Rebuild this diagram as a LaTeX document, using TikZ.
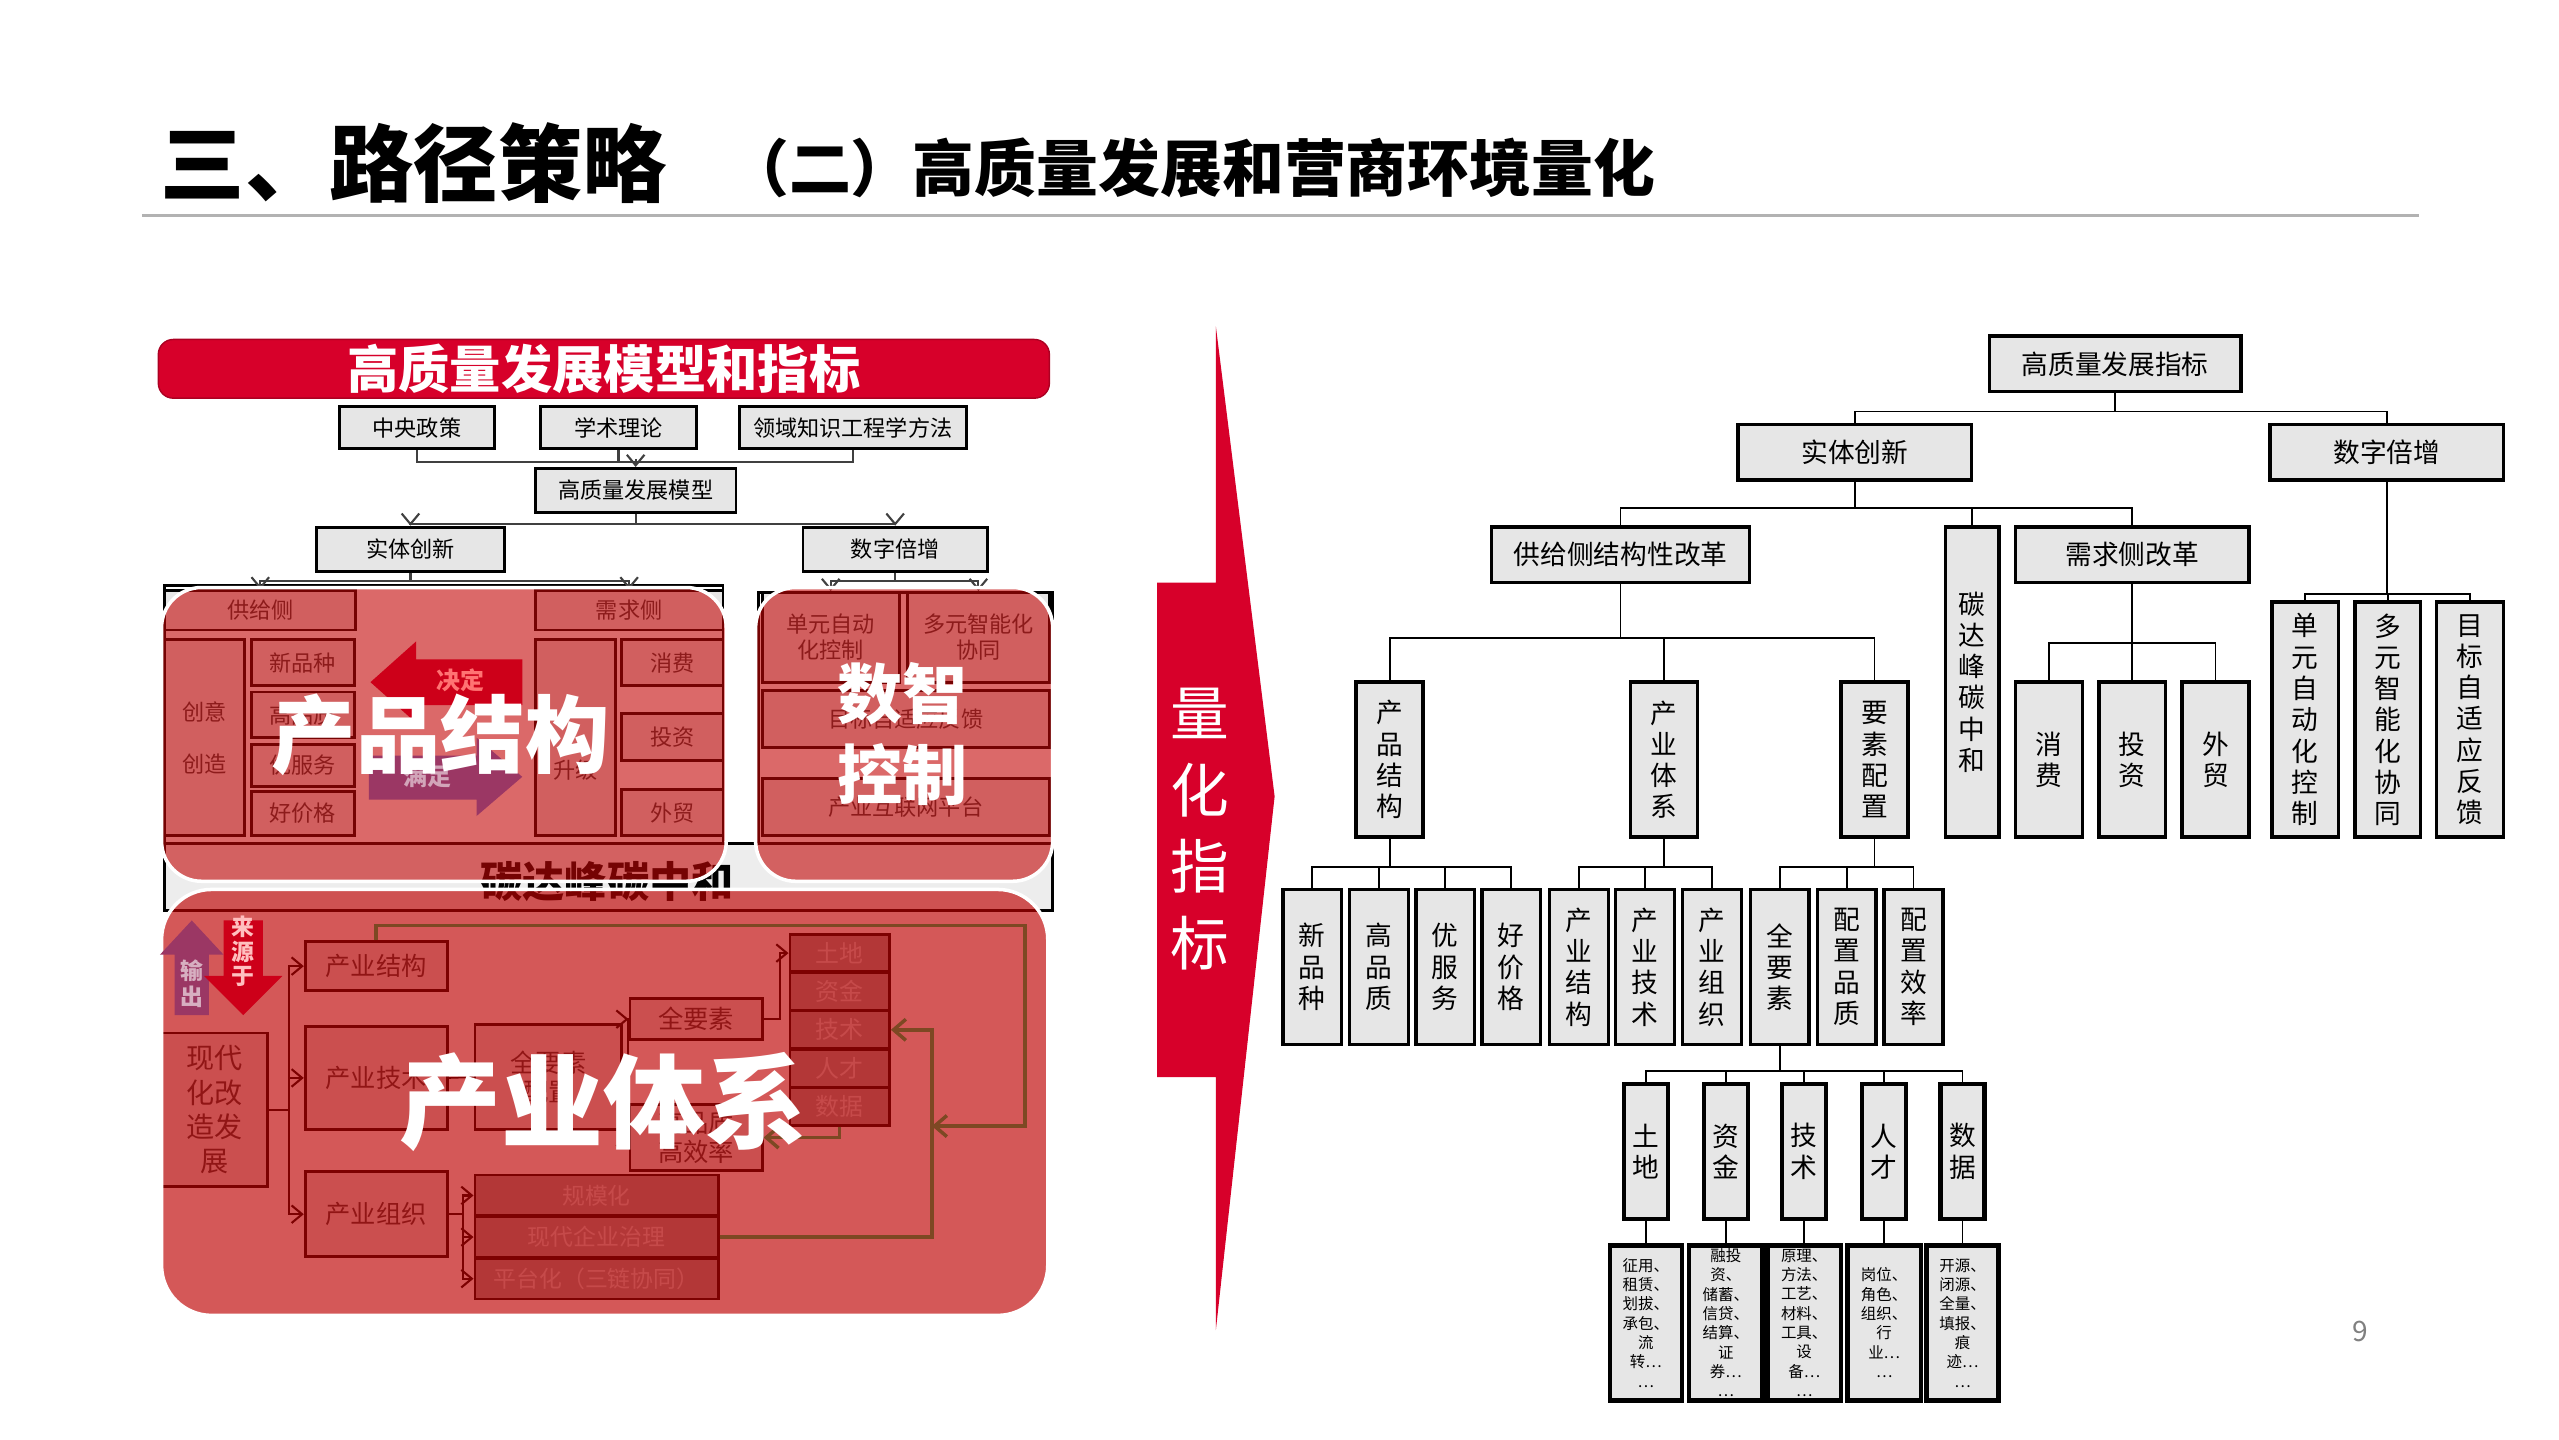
\documentclass[tikz,border=0pt]{standalone}
\usepackage{fontspec}
\setmainfont{Noto Sans CJK SC}
\usepackage{xcolor}
\usepackage{tikz}
\usetikzlibrary{arrows.meta,positioning,calc}

\newlength{\pu}
\setlength{\pu}{0.1632mm}
\newcommand{\fs}[2]{\fontsize{#1}{#2}\selectfont}

\definecolor{boxgray}{RGB}{230,230,230}
\definecolor{stripgray}{RGB}{237,237,237}
\definecolor{hqred}{RGB}{215,0,42}
\definecolor{ovred}{RGB}{195,5,5}
\definecolor{ovredb}{RGB}{190,2,2}
\definecolor{arrred}{RGB}{205,0,25}
\definecolor{arrpur}{RGB}{155,55,100}
\definecolor{brn}{RGB}{125,72,35}
\definecolor{txtgray}{RGB}{60,60,60}
\definecolor{stkfill}{RGB}{160,160,160}
\definecolor{stktxt}{RGB}{215,215,215}

\begin{document}
\begin{tikzpicture}[
    x=0.1632mm, y=-0.1632mm,
    wh/.style 2 args={minimum width=#1*\pu, minimum height=#2*\pu},
    tbox/.style={draw, line width=1pt, fill=boxgray, inner sep=0pt, align=center, font=\fs{7.6}{8.9}},
    ebox/.style={draw, line width=1.3pt, fill=boxgray, inner sep=0pt, align=center, font=\fs{4.4}{5.5}},
    lbox/.style={draw, line width=0.8pt, fill=boxgray, inner sep=0pt, align=center, font=\fs{6.3}{7.4}},
    ibox/.style={draw, line width=0.8pt, fill=boxgray, inner sep=0pt, align=center, text=txtgray, font=\fs{6.3}{7.4}},
    jbox/.style={draw, line width=0.8pt, fill=boxgray, inner sep=0pt, align=center, text=txtgray, font=\fs{7.2}{8.4}},
    stk/.style={draw, line width=0.8pt, fill=stkfill, inner sep=0pt, align=center, text=stktxt, font=\fs{6.8}{8}},
    link/.style={draw, line width=0.5pt},
    gline/.style={draw=darkgray, line width=0.6pt},
    garr/.style={draw=darkgray, line width=0.6pt, -{Straight Barb[length=3pt,width=5pt]}},
    iarr/.style={draw=black, line width=0.6pt, -{Straight Barb[length=3pt,width=5pt]}},
    barr/.style={draw=brn, line width=1pt, -{Straight Barb[length=3.5pt,width=6pt]}},
    overlay1/.style={fill=ovred, fill opacity=0.6, draw=white, line width=1pt, rounded corners=4mm},
    overlay2/.style={fill=ovredb, fill opacity=0.66, draw=white, line width=1pt, rounded corners=5mm},
    big/.style={text=white, align=center, inner sep=0pt}
]
\useasboundingbox (0,0) rectangle (1568,882);

% Heading
\node[anchor=west, font=\bfseries\fs{24}{28}] (tmain) at (91,100) {三、路径策略};
\node[anchor=west, font=\bfseries\fs{17.6}{20}] (tsub) at (438,103) {（二）高质量发展和营商环境量化};
\draw[gray!60, line width=0.8pt] (87,132) -- (1482,132);
\node[text=gray, font=\fs{8}{9}] (pgnum) at (1446,816) {9};

% Left panel: model header
\node[draw=hqred!80!black, fill=hqred, rounded corners=1.5mm, wh={546}{36}, inner sep=0pt, text=white, font=\bfseries\fs{14.6}{16}] (lt) at (370,226) {高质量发展模型和指标};
\node[lbox, wh={95}{26}] (zy) at (255.5,262) {中央政策};
\node[lbox, wh={96}{26}] (xs) at (379,262) {学术理论};
\node[lbox, wh={139}{26}] (ly) at (522.5,262) {领域知识工程学方法};
\node[lbox, wh={123}{27}] (gm) at (389.5,300.5) {高质量发展模型};
\node[lbox, wh={115}{27}] (lst) at (251.5,336.5) {实体创新};
\node[lbox, wh={113}{27}] (lsz) at (548.5,336.5) {数字倍增};

\draw[gline] (zy.south) -- ++(0,7) -| (ly.south);
\draw[gline] (xs.south) -- ++(0,7);
\draw[garr] (gm.north) ++(0,-5) -- (gm.north);
\draw[garr] (gm.south) -- ++(0,6) -| (lst.north);
\draw[garr] (gm.south) -- ++(0,6) -| (lsz.north);

% Frames under the overlays
\draw[line width=0.8pt, fill=stripgray] (101,517) rectangle (645,558);
\draw[line width=0.8pt, fill=white] (101,359) rectangle (443,517);
\draw[line width=0.8pt, fill=white] (465,363) rectangle (645,517);
\node[font=\bfseries\fs{12}{14}] (tdf) at (372,540) {碳达峰碳中和};

% Product structure block
\node[ibox, wh={117}{24}] (gjb) at (159.5,374) {供给侧};
\node[ibox, wh={115}{24}] (xqb) at (385.5,374) {需求侧};
\node[ibox, wh={49}{120}, font=\fs{6.3}{14.9}] (cy) at (125.5,452) {创意\\创造};
\node[ibox, wh={63}{28}] (p1) at (185.5,406) {新品种};
\node[ibox, wh={63}{28}] (p2) at (185.5,438) {高品质};
\node[ibox, wh={63}{26}] (p3) at (185.5,469) {优服务};
\node[ibox, wh={63}{27}] (p4) at (185.5,498.5) {好价格};
\node[ibox, wh={49}{120}] (sj) at (352.5,452) {};
\node[text=txtgray, font=\fs{6.3}{7.4}] (sjt) at (352.5,472) {升级};
\node[ibox, wh={62}{28}] (q1) at (412,406) {消费};
\node[ibox, wh={62}{29}] (q2) at (412,451.5) {投资};
\node[ibox, wh={62}{28}] (q3) at (412,498) {外贸};

% Digital control block
\node[ibox, wh={84}{55}] (d1) at (509,390.5) {单元自动\\化控制};
\node[ibox, wh={87}{55}] (d2) at (599.5,390.5) {多元智能化\\协同};
\node[ibox, wh={176}{35}] (d3) at (555,440.5) {目标自适应反馈};
\node[ibox, wh={176}{35}] (d4) at (555,494.5) {产业互联网平台};

\draw[garr] (lst.south) -- ++(0,5) -| (gjb.north);
\draw[garr] (lst.south) -- ++(0,5) -| (xqb.north);
\draw[garr] (lsz.south) -- ++(0,5) -| (d1.north);
\draw[garr] (lsz.south) -- ++(0,5) -| (d2.north);

% Industry system block
\node[jbox, wh={65}{94}, font=\fs{8}{9.8}] (xd) at (131.5,680) {现代\\化改\\造发\\展};
\node[jbox, wh={87}{30}] (cj) at (230.5,592) {产业结构};
\node[jbox, wh={87}{63}] (cs) at (230.5,660.5) {产业技术};
\node[jbox, wh={87}{52}] (cz) at (230.5,744) {产业组织};
\node[jbox, wh={90}{64}] (qp) at (336,660) {全要素\\配置};
\node[jbox, wh={81}{25}] (qy) at (426.5,624.5) {全要素};
\node[jbox, wh={81}{40}] (gx) at (426.5,697) {高品质\\高效率};
\node[stk, wh={61}{23}] (s1) at (514.5,584) {土地};
\node[stk, wh={61}{23}] (s2) at (514.5,607.5) {资金};
\node[stk, wh={61}{23}] (s3) at (514.5,631) {技术};
\node[stk, wh={61}{23}] (s4) at (514.5,654.5) {人才};
\node[stk, wh={61}{23}] (s5) at (514.5,678) {数据};
\node[stk, wh={149}{25}, font=\fs{6.5}{7.6}] (g1) at (365.5,732.5) {规模化};
\node[stk, wh={149}{25}, font=\fs{6.5}{7.6}] (g2) at (365.5,758) {现代企业治理};
\node[stk, wh={149}{25}, font=\fs{6.5}{7.6}] (g3) at (365.5,783.5) {平台化（三链协同）};

\draw[iarr] (xd.east) -- ++(12,0) |- (cj.west);
\draw[iarr] (xd.east) -- ++(12,0) |- (cs.west);
\draw[iarr] (xd.east) -- ++(12,0) |- (cz.west);
\draw[link] (cs.east) -- (qp.west);
\draw[iarr] (qp.east) -- ++(3,0) |- (qy.west);
\draw[iarr] (qp.east) -- ++(3,0) |- (gx.west);
\draw[iarr] (qy.east) -- ++(10,0) |- (s1.west);
\draw[iarr] (cz.east) -- ++(9,0) |- (g1.west);
\draw[iarr] (cz.east) -- ++(9,0) |- (g2.west);
\draw[iarr] (cz.east) -- ++(9,0) |- (g3.west);

% Red overlays
\path[overlay1] (99,360) rectangle (445,540);
\path[overlay1] (463,360) rectangle (645,540);
\path[overlay2] (99,545) rectangle (642,806);

% Feedback loops
\coordinate (br1) at (628,567);
\coordinate (br2) at (628,690);
\coordinate (jn) at (571,690);
\coordinate (br3) at (571,758);
\draw[barr] (cj.north) |- (br1) -- (br2) -- (jn);
\draw[barr] (g2.east) -- (br3) |- (s3.east);
\draw[barr] (s5.south) |- (gx.east);

% Block arrows
\fill[arrred] (227,418) -- (255,393) -- (255,404) -- (320,404) -- (320,432) -- (255,432) -- (255,443) -- cycle;
\node[text=red!55!white, font=\bfseries\fs{6.8}{8}] (jd) at (282,417) {决定};
\fill[arrpur] (226,463) -- (292,463) -- (292,452) -- (320,476) -- (292,500) -- (292,490) -- (226,490) -- cycle;
\node[text=arrpur!45!white, font=\bfseries\fs{6.8}{8}] (mz) at (262,476) {满足};
\fill[arrpur] (107,622) -- (107,585) -- (98,585) -- (117.5,564) -- (137,585) -- (128,585) -- (128,622) -- cycle;
\node[text=arrpur!40!white, align=center, font=\bfseries\fs{6.5}{7.4}] (sc) at (117.5,603) {输\\出};
\fill[arrred] (137,564) -- (161,564) -- (161,598) -- (173,598) -- (149,622) -- (125,598) -- (137,598) -- cycle;
\node[text=red!25!white, align=center, font=\bfseries\fs{6.5}{7}] (lyy) at (149,583) {来\\源\\于};

% Big labels
\node[big, font=\bfseries\fs{24}{28}] (tcp) at (270,450) {产品结构};
\node[big, font=\bfseries\fs{18.5}{23}] (tszk) at (553,450) {数智\\控制};
\node[big, font=\bfseries\fs{29}{32}] (tcy) at (370,675) {产业体系};

% Centre arrow
\fill[hqred] (745,200) -- (781,488) -- (745,815) -- (745,660) -- (709,660) -- (709,357) -- (745,357) -- cycle;
\node[text=white, align=center, font=\fs{16.7}{21.8}] (qh) at (735,508) {量\\化\\指\\标};

% Right tree
\node[tbox, wh={154}{34}] (root) at (1296,223) {高质量发展指标};
\node[tbox, wh={143}{34}] (st) at (1136.5,277) {实体创新};
\node[tbox, wh={143}{34}] (sz) at (1462.5,277) {数字倍增};
\node[tbox, wh={158}{34}] (gj) at (993,340) {供给侧结构性改革};
\node[tbox, wh={33}{190}] (tan) at (1208.5,418) {碳\\达\\峰\\碳\\中\\和};
\node[tbox, wh={143}{34}] (xq) at (1306.5,340) {需求侧改革};
\node[tbox, wh={41}{144}] (a1) at (1412.5,441) {单\\元\\自\\动\\化\\控\\制};
\node[tbox, wh={40}{144}] (a2) at (1463,441) {多\\元\\智\\能\\化\\协\\同};
\node[tbox, wh={41}{144}] (a3) at (1513.5,441) {目\\标\\自\\适\\应\\反\\馈};
\node[tbox, wh={41}{95}] (xf) at (1255.5,465.5) {消\\费};
\node[tbox, wh={41}{95}] (tz) at (1306.5,465.5) {投\\资};
\node[tbox, wh={41}{95}] (wm) at (1357.5,465.5) {外\\贸};
\node[tbox, wh={41}{95}] (cpjg) at (851.5,465.5) {产\\品\\结\\构};
\node[tbox, wh={41}{95}] (cytx) at (1019.5,465.5) {产\\业\\体\\系};
\node[tbox, wh={41}{95}] (yspz) at (1148.5,465.5) {要\\素\\配\\置};

\node[tbox, wh={36}{95}] (n1) at (804,592.5) {新\\品\\种};
\node[tbox, wh={36}{95}] (n2) at (845,592.5) {高\\品\\质};
\node[tbox, wh={36}{95}] (n3) at (885.5,592.5) {优\\服\\务};
\node[tbox, wh={36}{95}] (n4) at (926,592.5) {好\\价\\格};
\node[tbox, wh={36}{95}] (n5) at (967.5,592.5) {产\\业\\结\\构};
\node[tbox, wh={36}{95}] (n6) at (1008,592.5) {产\\业\\技\\术};
\node[tbox, wh={36}{95}] (n7) at (1049,592.5) {产\\业\\组\\织};
\node[tbox, wh={36}{95}] (n8) at (1090.5,592.5) {全\\要\\素};
\node[tbox, wh={36}{95}] (n9) at (1131.5,592.5) {配\\置\\品\\质};
\node[tbox, wh={36}{95}] (n10) at (1172.5,592.5) {配\\置\\效\\率};

\node[tbox, line width=1.2pt, wh={27}{83}] (m1) at (1008.5,705.5) {土\\地};
\node[tbox, line width=1.2pt, wh={27}{83}] (m2) at (1057.5,705.5) {资\\金};
\node[tbox, line width=1.2pt, wh={27}{83}] (m3) at (1105.5,705.5) {技\\术};
\node[tbox, line width=1.2pt, wh={27}{83}] (m4) at (1154.5,705.5) {人\\才};
\node[tbox, line width=1.2pt, wh={27}{83}] (m5) at (1202.5,705.5) {数\\据};

\node[ebox, wh={44}{95}] (k1) at (1008.5,810.5) {征用、\\租赁、\\划拔、\\承包、\\流\\转…\\…};
\node[ebox, wh={45}{95}] (k2) at (1057.5,810.5) {融投\\资、\\储蓄、\\信贷、\\结算、\\证\\券…\\…};
\node[ebox, wh={45}{95}] (k3) at (1105.5,810.5) {原理、\\方法、\\工艺、\\材料、\\工具、\\设\\备…\\…};
\node[ebox, wh={45}{95}] (k4) at (1154.5,810.5) {岗位、\\角色、\\组织、\\行\\业…\\…};
\node[ebox, wh={44}{95}] (k5) at (1202.5,810.5) {开源、\\闭源、\\全量、\\填报、\\痕\\迹…\\…};

% Tree edges
\draw[link] (root.south) -- ++(0,11) -| (st.north);
\draw[link] (root.south) -- ++(0,11) -| (sz.north);
\draw[link] (st.south) -- ++(0,16) -| (gj.north);
\draw[link] (st.south) -- ++(0,16) -| (tan.north);
\draw[link] (st.south) -- ++(0,16) -| (xq.north);
\draw[link] (sz.south) -- ++(0,69) -| (a1.north);
\draw[link] (sz.south) -- ++(0,69) -| (a2.north);
\draw[link] (sz.south) -- ++(0,69) -| (a3.north);
\draw[link] (xq.south) -- ++(0,36) -| (xf.north);
\draw[link] (xq.south) -- ++(0,36) -| (tz.north);
\draw[link] (xq.south) -- ++(0,36) -| (wm.north);
\draw[link] (gj.south) -- ++(0,33) -| (cpjg.north);
\draw[link] (gj.south) -- ++(0,33) -| (cytx.north);
\draw[link] (gj.south) -- ++(0,33) -| (yspz.north);
\draw[link] (cpjg.south) -- ++(0,17) -| (n1.north);
\draw[link] (cpjg.south) -- ++(0,17) -| (n2.north);
\draw[link] (cpjg.south) -- ++(0,17) -| (n3.north);
\draw[link] (cpjg.south) -- ++(0,17) -| (n4.north);
\draw[link] (cytx.south) -- ++(0,17) -| (n5.north);
\draw[link] (cytx.south) -- ++(0,17) -| (n6.north);
\draw[link] (cytx.south) -- ++(0,17) -| (n7.north);
\draw[link] (yspz.south) -- ++(0,17) -| (n8.north);
\draw[link] (yspz.south) -- ++(0,17) -| (n9.north);
\draw[link] (yspz.south) -- ++(0,17) -| (n10.north);
\draw[link] (n8.south) -- ++(0,15) -| (m1.north);
\draw[link] (n8.south) -- ++(0,15) -| (m2.north);
\draw[link] (n8.south) -- ++(0,15) -| (m3.north);
\draw[link] (n8.south) -- ++(0,15) -| (m4.north);
\draw[link] (n8.south) -- ++(0,15) -| (m5.north);
\draw[link] (m1.south) -- (k1.north);
\draw[link] (m2.south) -- (k2.north);
\draw[link] (m3.south) -- (k3.north);
\draw[link] (m4.south) -- (k4.north);
\draw[link] (m5.south) -- (k5.north);

\end{tikzpicture}
\end{document}
